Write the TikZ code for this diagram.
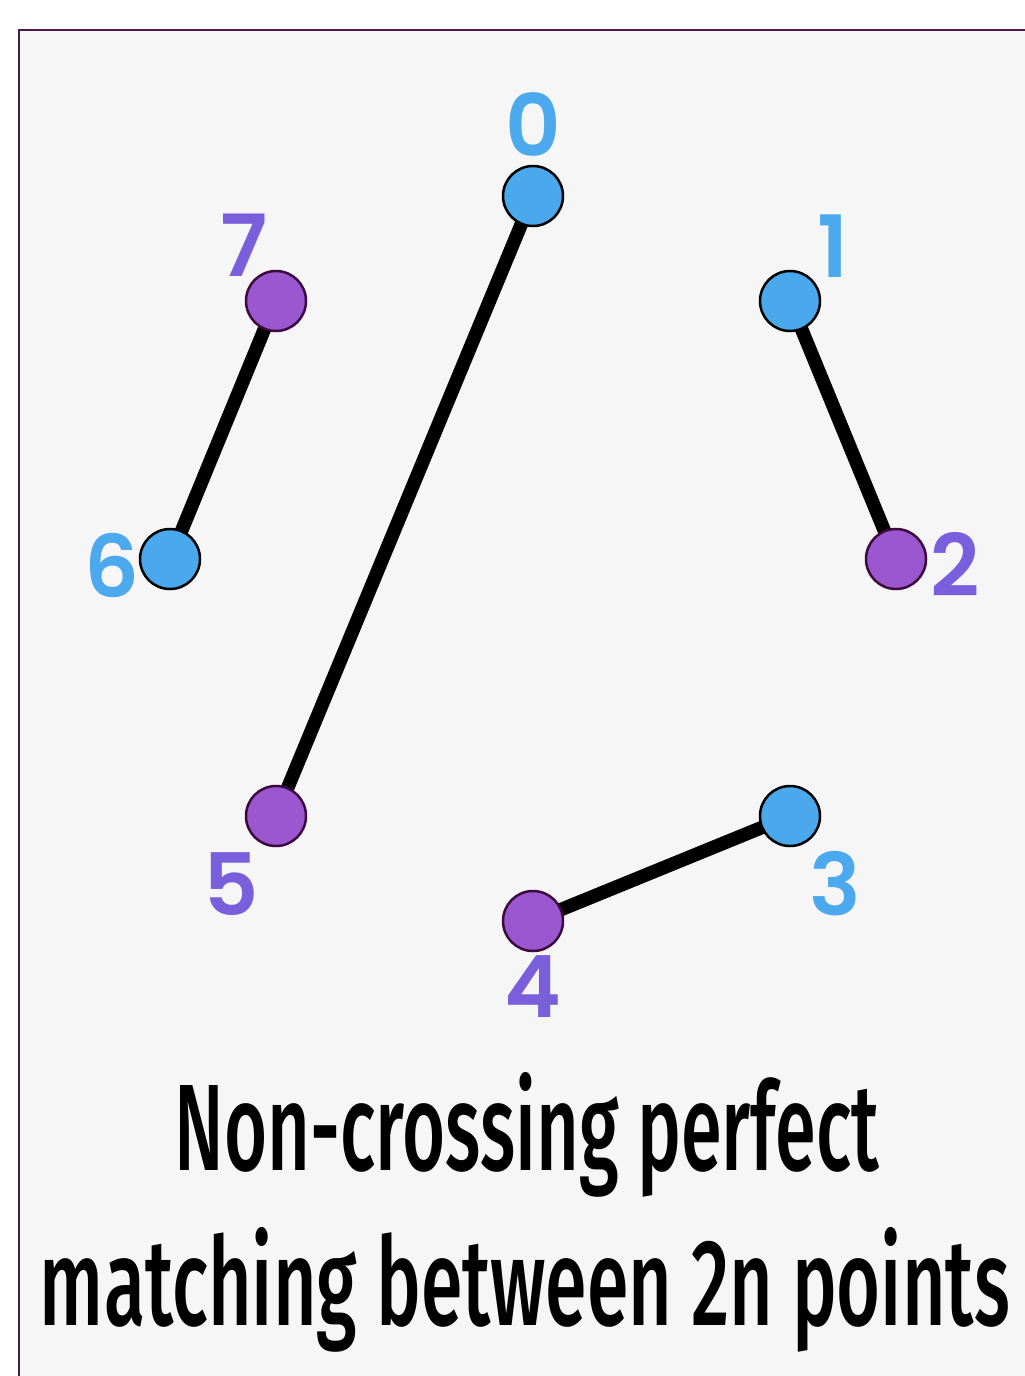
\documentclass[tikz,border=0pt]{standalone}
\usepackage{fontspec}
\setmainfont{Fira Sans}
\newfontfamily\ttlfont{Fira Sans Medium}
\newfontfamily\labfont{Poppins SemiBold}
\usepackage{graphicx}
\definecolor{frameC}{HTML}{4A1A4A}
\definecolor{bgC}{HTML}{F6F6F6}
\definecolor{blueDot}{HTML}{4AA8EC}
\definecolor{purpDot}{HTML}{9B57D0}
\definecolor{purpEdge}{HTML}{3D0A3D}
\definecolor{blueLab}{HTML}{4DA9EE}
\definecolor{purpLab}{HTML}{7A5FDC}
\pgfdeclarelayer{back}
\pgfdeclarelayer{edges}
\pgfsetlayers{back,edges,main}
\begin{document}
\begin{tikzpicture}[x=1pt,y=-1pt,
  bdot/.style={circle,minimum size=60pt,inner sep=0pt,fill=blueDot,draw=black,line width=2.5pt},
  pdot/.style={circle,minimum size=60pt,inner sep=0pt,fill=purpDot,draw=purpEdge,line width=2.5pt},
  blab/.style={text=blueLab,font=\labfont\fontsize{86}{86}\selectfont,inner sep=0pt},
  plab/.style={text=purpLab,font=\labfont\fontsize{86}{86}\selectfont,inner sep=0pt},
  match/.style={line width=13.5pt,black},
  ttl/.style={inner sep=0pt,anchor=base}]
\useasboundingbox (0,0) rectangle (1025,1376);
\begin{pgfonlayer}{back}
\draw[frameC,line width=2.5pt,fill=bgC] (19,30) rectangle (1040,1400);
\end{pgfonlayer}
\node[bdot] (p0) at (533,196) {};
\node[bdot] (p1) at (790,301) {};
\node[pdot] (p2) at (896,559) {};
\node[bdot] (p3) at (790,816) {};
\node[pdot] (p4) at (533,921) {};
\node[pdot] (p5) at (276,816) {};
\node[bdot] (p6) at (170,559) {};
\node[pdot] (p7) at (276,301) {};
\begin{pgfonlayer}{edges}
\draw[match] (p0.center) -- (p5.center);
\draw[match] (p7.center) -- (p6.center);
\draw[match] (p1.center) -- (p2.center);
\draw[match] (p4.center) -- (p3.center);
\end{pgfonlayer}
\node[blab] (l0) at (533,125) {0};
\node[blab] (l1) at (833,246) {1};
\node[plab] (l2) at (955,564) {2};
\node[blab] (l3) at (835,884) {3};
\node[plab] (l4) at (533,987) {4};
\node[plab] (l5) at (231,884) {5};
\node[blab] (l6) at (112,565) {6};
\node[plab] (l7) at (244,245) {7};
\node[ttl] (t1) at (527,1170) {\resizebox{705pt}{\height}{\ttlfont\fontsize{123}{123}\selectfont Non-crossing perfect}};
\node[ttl] (t2) at (525,1325) {\resizebox{970pt}{\height}{\ttlfont\fontsize{123}{123}\selectfont matching between 2n points}};
\end{tikzpicture}
\end{document}
